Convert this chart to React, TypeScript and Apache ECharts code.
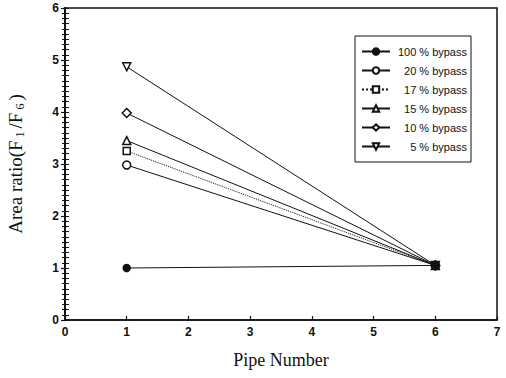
import React, { useEffect, useRef } from "react";
import * as echarts from "echarts";

const pipeNumbers = [1, 6];
const seriesNames = ["100 % bypass", "20 % bypass", "17 % bypass", "15 % bypass", "10 % bypass", "5 % bypass"];
const bypass100 = [1.0, 1.05];
const bypass20 = [2.98, 1.05];
const bypass17 = [3.25, 1.05];
const bypass15 = [3.45, 1.05];
const bypass10 = [3.98, 1.05];
const bypass5 = [4.87, 1.05];
const xTicks = [0, 1, 2, 3, 4, 5, 6, 7];
const yTicks = [0, 1, 2, 3, 4, 5, 6];

export default function App() {
  const ref = useRef<HTMLDivElement>(null);
  useEffect(() => {
    if (!ref.current) return;
    const chart = echarts.init(ref.current, null, { renderer: "svg" });
    const values = [bypass100, bypass20, bypass17, bypass15, bypass10, bypass5];
    const symbols = ["circle", "circle", "rect", "triangle", "diamond", "triangle"];
    const sizes = [7, 8, 7, 8, 9, 8];
    const series: any[] = seriesNames.map((name, i) => ({
      name,
      type: "line",
      data: pipeNumbers.map((x, j) => [x, values[i][j]]),
      symbol: symbols[i],
      symbolSize: sizes[i],
      symbolRotate: i === 5 ? 180 : 0,
      showAllSymbol: true,
      lineStyle: { color: "#111", width: 1, type: i === 2 ? "dotted" : "solid" },
      itemStyle: {
        color: i === 0 ? "#111" : "#fff",
        borderColor: "#111",
        borderWidth: 1.5,
      },
      emphasis: { disabled: true },
      z: 10 - i,
    }));
    chart.setOption({
      animation: false,
      backgroundColor: "#fff",
      grid: {
        left: 65,
        right: 9,
        top: 8,
        bottom: 58,
        show: true,
        borderColor: "#111",
        borderWidth: 1.5,
        containLabel: false,
        outerBoundsMode: "none",
      },
      legend: {
        show: true,
        orient: "vertical",
        left: 355,
        top: 36,
        data: seriesNames,
        itemWidth: 28,
        itemHeight: 8,
        itemGap: 8,
        padding: [10, 4, 10, 6],
        borderColor: "#111",
        borderWidth: 1,
        backgroundColor: "#fff",
        formatter: (n: string) => `{a|${n}}`,
        textStyle: {
          fontFamily: "Liberation Sans",
          fontSize: 11,
          color: "#111",
          rich: { a: { width: 72, align: "right", fontFamily: "Liberation Sans", fontSize: 11, color: "#111" } },
        },
      },
      xAxis: {
        type: "value",
        min: xTicks[0],
        max: xTicks[xTicks.length - 1],
        interval: 1,
        name: "Pipe Number",
        nameLocation: "middle",
        nameGap: 31,
        nameTextStyle: { fontFamily: "Liberation Serif", fontSize: 18, color: "#111" },
        axisLine: { lineStyle: { color: "#111", width: 1.5 } },
        axisTick: { inside: true, length: 4, lineStyle: { color: "#111", width: 1.2 } },
        axisLabel: { fontFamily: "Liberation Sans", fontWeight: 700, fontSize: 12, color: "#111", margin: 6 },
        splitLine: { show: false },
      },
      yAxis: [
        {
          type: "value",
          min: yTicks[0],
          max: yTicks[yTicks.length - 1],
          interval: 1,
          name: "Area ratio(F{s|1}/F{s|6})",
          nameLocation: "middle",
          nameGap: 39,
          nameTextStyle: {
            fontFamily: "Liberation Serif",
            fontSize: 19,
            color: "#111",
            lineHeight: 22,
            rich: {
              s: {
                fontFamily: "Liberation Serif",
                fontSize: 12,
                color: "#111",
                verticalAlign: "bottom",
                lineHeight: 14,
                padding: [0, 3, 0, 3],
              },
            },
          },
          axisLine: { lineStyle: { color: "#111", width: 2 } },
          axisTick: { inside: false, length: 4, lineStyle: { color: "#111", width: 1.2 } },
          minorTick: { show: true, splitNumber: 10, length: 3, lineStyle: { color: "#111", width: 1 } },
          axisLabel: { fontFamily: "Liberation Sans", fontWeight: 700, fontSize: 12, color: "#111", margin: 6 },
          splitLine: { show: false },
        },
        {
          type: "value",
          position: "left",
          offset: 0,
          min: 0,
          max: 6,
          interval: 0.1,
          show: true,
          axisLine: { show: true, lineStyle: { color: "#111", width: 2 } },
          axisTick: { show: true, inside: true, length: 4, lineStyle: { color: "#111", width: 1 } },
          axisLabel: { show: false },
          splitLine: { show: false },
        },
      ],
      series,
    });
    return () => chart.dispose();
  }, []);
  return <div ref={ref} style={{ width: 506, height: 378, position: "absolute", left: 0, top: 0 }} />;
}
